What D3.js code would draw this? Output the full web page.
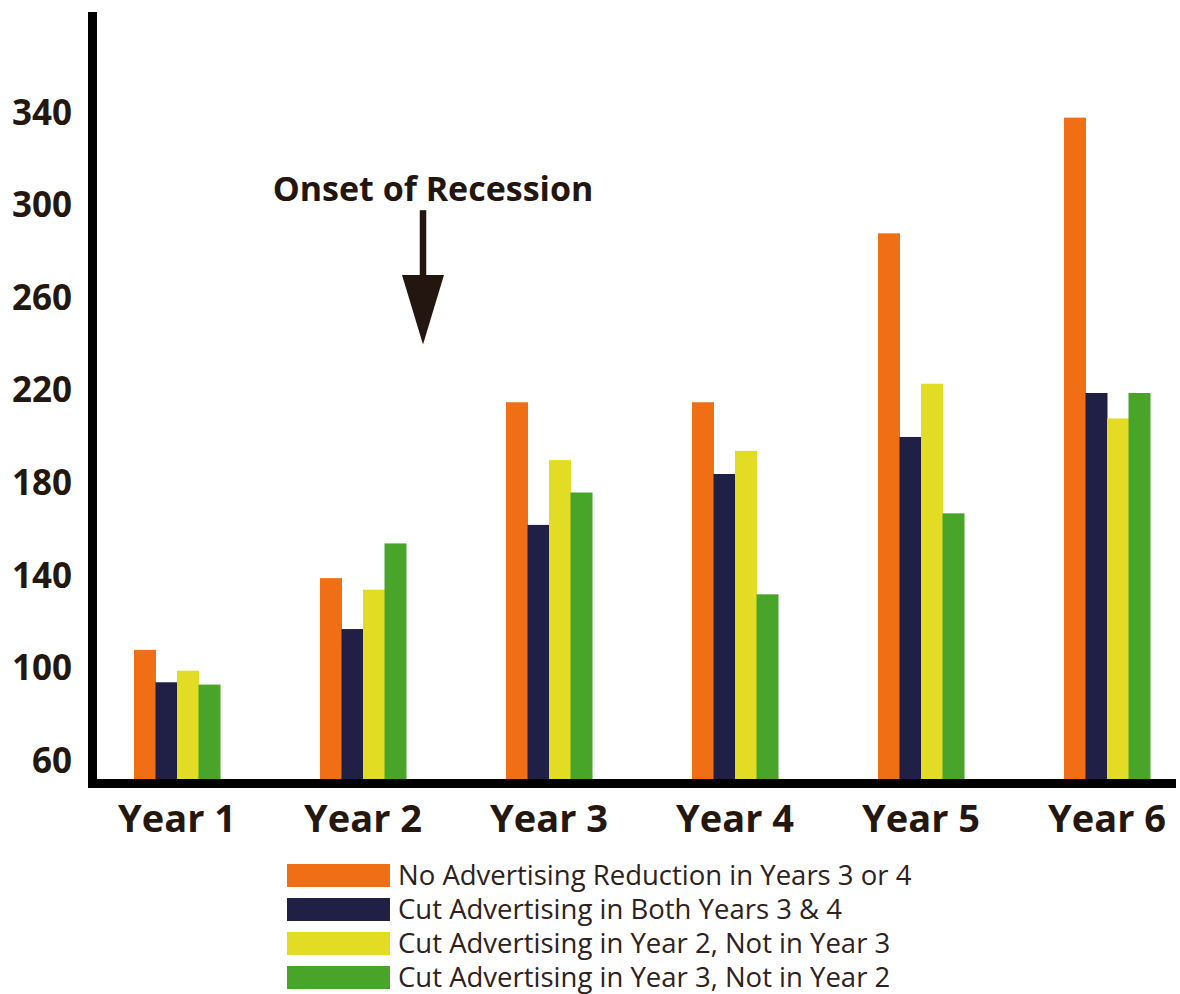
<!DOCTYPE html>
<html>
<head>
<meta charset="utf-8">
<script src="https://cdn.jsdelivr.net/npm/d3@7"></script>
<style>
  html, body { margin: 0; padding: 0; background: #ffffff; }
  svg { display: block; }
  .tick text { font-family: "Open Sans", sans-serif; font-weight: 700; fill: #24170f; }
  .legend text { font-family: "Open Sans", sans-serif; font-weight: 400; fill: #2d2220; }
</style>
</head>
<body>
<svg id="chart" width="1180" height="994"></svg>
<script>
// Sales index by year under four advertising strategies
const years = ["Year 1", "Year 2", "Year 3", "Year 4", "Year 5", "Year 6"];
const seriesNames = [
  "No Advertising Reduction in Years 3 or 4",
  "Cut Advertising in Both Years 3 & 4",
  "Cut Advertising in Year 2, Not in Year 3",
  "Cut Advertising in Year 3, Not in Year 2"
];
const noReduction   = [108, 139, 215, 215, 288, 338];
const cutBoth       = [94, 117, 162, 184, 200, 219];
const cutYear2Only  = [99, 134, 190, 194, 223, 208];
const cutYear3Only  = [93, 154, 176, 132, 167, 219];
const seriesColors = ["#f06e14", "#202046", "#e3dc24", "#49a52a"];
const yTicks = [60, 100, 140, 180, 220, 260, 300, 340];

const seriesValues = [noReduction, cutBoth, cutYear2Only, cutYear3Only];

const svg = d3.select("#chart");

// Scales
const baseValue = 52.2;           // value at the horizontal axis
const y = d3.scaleLinear().domain([baseValue, 340]).range([779, 113]);
const x = d3.scaleBand().domain(years).range([84, 1200])
  .paddingInner(0.5376).paddingOuter(0.2688);
const xs = d3.scaleBand().domain(d3.range(seriesNames.length)).range([0, x.bandwidth()]);

// Bars
const groups = svg.append("g").selectAll("g")
  .data(years)
  .join("g")
  .attr("transform", d => `translate(${x(d)},0)`);

groups.selectAll("rect")
  .data((yr, i) => seriesValues.map((vals, s) => ({ s, v: vals[i] })))
  .join("rect")
  .attr("x", d => xs(d.s))
  .attr("width", xs.bandwidth() + 0.5)
  .attr("y", d => y(d.v))
  .attr("height", d => y(baseValue) - y(d.v))
  .attr("fill", d => seriesColors[d.s]);

// Axis lines
svg.append("line")
  .attr("x1", 92.5).attr("x2", 92.5)
  .attr("y1", 12).attr("y2", 788)
  .attr("stroke", "#000").attr("stroke-width", 9);
svg.append("line")
  .attr("x1", 88).attr("x2", 1176)
  .attr("y1", 783.5).attr("y2", 783.5)
  .attr("stroke", "#000").attr("stroke-width", 9);

// Y axis labels
const yAxis = svg.append("g")
  .attr("transform", "translate(92,0)")
  .call(d3.axisLeft(y).tickValues(yTicks).tickSize(0).tickPadding(20).tickFormat(d3.format("d")));
yAxis.select(".domain").remove();
yAxis.selectAll("text").style("font-size", "35px");

// X axis labels
const xAxis = svg.append("g")
  .attr("transform", "translate(0,779)")
  .call(d3.axisBottom(x).tickSize(0));
xAxis.select(".domain").remove();
xAxis.selectAll("text")
  .attr("y", 40).attr("dy", "0.35em")
  .style("font-size", "38px");

// Recession annotation
const arrowX = x("Year 2") + x.bandwidth() + (x.step() - x.bandwidth()) * 0.17;
svg.append("text")
  .attr("x", arrowX + 10)
  .attr("y", y(302))
  .attr("text-anchor", "middle")
  .style("font-family", "'Open Sans', sans-serif")
  .style("font-weight", 700)
  .style("font-size", "34px")
  .style("fill", "#231510")
  .text("Onset of Recession");
svg.append("line")
  .attr("x1", arrowX).attr("x2", arrowX)
  .attr("y1", y(298)).attr("y2", y(268))
  .attr("stroke", "#231510").attr("stroke-width", 6.5);
svg.append("path")
  .attr("d", `M${arrowX - 21},${y(270)} L${arrowX + 21},${y(270)} L${arrowX},${y(240)} Z`)
  .attr("fill", "#231510");

// Legend
const legend = svg.append("g").attr("class", "legend")
  .attr("transform", "translate(287,864)");
const rows = legend.selectAll("g")
  .data(seriesNames)
  .join("g")
  .attr("transform", (d, i) => `translate(0,${i * 34})`);
rows.append("rect")
  .attr("width", 103).attr("height", 23)
  .attr("fill", (d, i) => seriesColors[i]);
rows.append("text")
  .attr("x", 111).attr("y", 20.5)
  .style("font-size", "27.5px")
  .text(d => d);
</script>
</body>
</html>
